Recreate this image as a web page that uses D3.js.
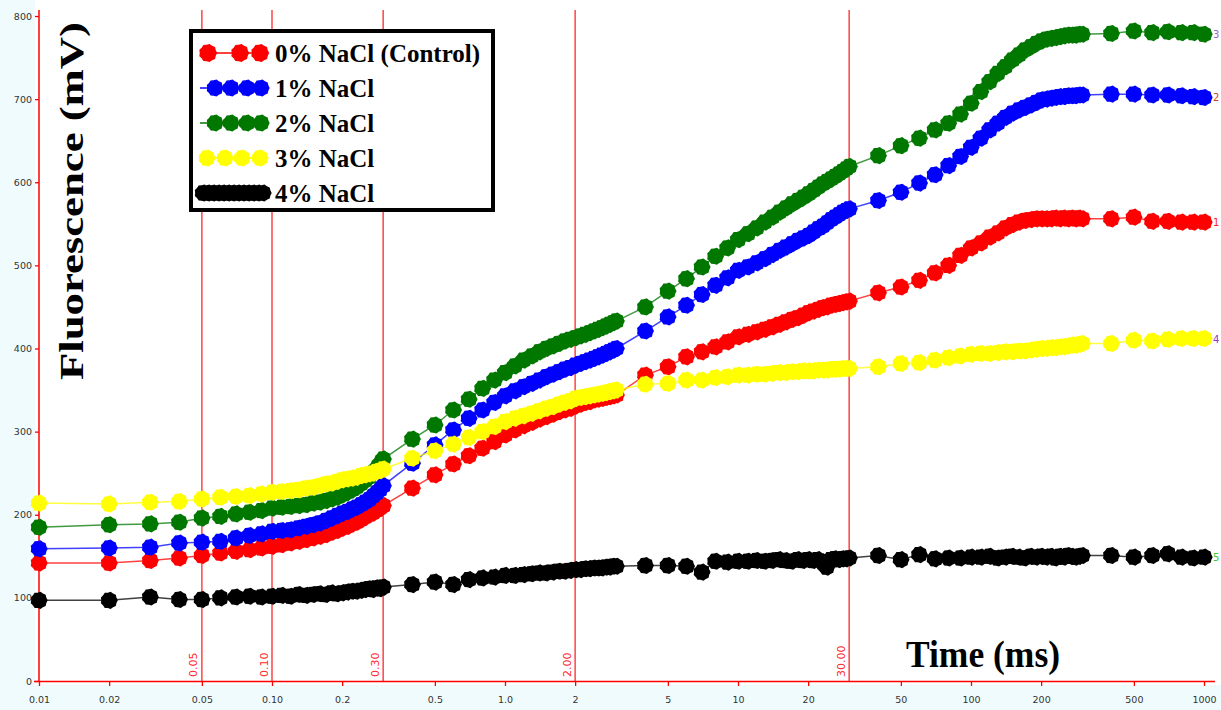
<!DOCTYPE html>
<html><head><meta charset="utf-8">
<script src="https://cdn.jsdelivr.net/npm/d3@7"></script>
<style>html,body{margin:0;padding:0;background:#fff;} svg{display:block;}</style>
</head><body>
<svg id="chart" width="1221" height="710"></svg>
<script>
// ---- data ----
const times = [
 0.01,0.02,0.03,0.04,0.05,0.06,0.07,0.08,0.09,0.10,
 0.11,0.12,0.13,0.14,0.15,0.16,0.17,0.18,0.19,0.20,
 0.21,0.22,0.23,0.24,0.25,0.26,0.27,0.28,0.29,0.30,
 0.4,0.5,0.6,0.7,0.8,0.9,1.0,
 1.1,1.2,1.3,1.4,1.5,1.6,1.7,1.8,1.9,2.0,
 2.1,2.2,2.3,2.4,2.5,2.6,2.7,2.8,2.9,3.0,
 4,5,6,7,8,9,10,
 11,12,13,14,15,16,17,18,19,20,
 21,22,23,24,25,26,27,28,29,30,
 40,50,60,70,80,90,100,
 110,120,130,140,150,160,170,180,190,200,
 210,220,230,240,250,260,270,280,290,300,
 400,500,600,700,800,900,1000];

const nacl0 = [
 142,142,145,148,151,154,156,158,160,162,
 164,166,168,170,172,174,176,179,181,184,
 186,189,191,194,197,200,202,205,208,211,
 232,248,261,271,280,288,296,
 302,307,311,315,318,321,324,326,328,331,
 333,335,336,338,339,340,341,342,343,344,
 368,378,390,396,402,408,414,
 417,420,423,426,429,432,435,437,440,443,
 445,447,449,450,452,453,454,455,456,457,
 467,474,482,491,500,512,521,
 527,534,539,545,549,552,554,555,556,556,
 556,556,557,556,557,556,557,556,557,556,
 556,558,553,553,552,552,552];

const nacl1 = [
 159,160,161,166,167,168,172,175,177,180,
 181,182,184,186,188,190,193,196,199,202,
 204,207,209,212,215,218,222,226,230,235,
 262,284,302,316,326,335,343,
 349,354,358,362,366,369,372,375,377,380,
 382,384,386,388,390,392,394,396,398,400,
 421,438,452,465,476,485,494,
 498,503,508,513,518,522,526,530,533,536,
 540,544,547,551,555,558,561,564,566,568,
 578,588,599,609,620,631,642,
 653,663,671,678,683,687,690,693,696,699,
 700,701,702,703,703,704,704,704,705,705,
 706,706,705,705,704,703,702];

const nacl2 = [
 185,188,189,191,196,198,201,203,205,208,
 209,210,211,212,214,215,217,219,221,224,
 227,230,233,237,241,245,250,255,261,267,
 291,308,326,339,352,362,371,
 379,386,391,396,400,403,406,409,411,413,
 415,417,419,421,423,425,427,429,431,433,
 450,469,484,498,511,521,531,
 538,545,552,558,564,569,574,578,582,586,
 590,594,598,601,604,607,610,613,616,619,
 632,644,653,663,671,682,695,
 709,721,731,739,747,753,759,763,767,770,
 772,773,774,775,776,777,777,777,778,778,
 779,782,780,781,780,780,778];

const nacl3 = [
 214,213,215,216,219,221,222,223,225,227,
 228,229,230,232,233,235,237,238,240,242,
 243,244,245,247,248,249,250,252,253,255,
 268,277,285,293,300,306,312,
 316,319,322,325,328,330,333,335,337,340,
 341,342,343,344,345,346,347,348,349,350,
 357,358,362,362,365,366,368,
 368,369,369,370,371,371,372,372,373,373,
 373,374,374,374,375,375,375,376,376,376,
 378,382,383,386,389,391,393,
 394,394,395,396,396,397,397,398,399,400,
 400,401,401,402,402,403,404,404,405,406,
 406,410,409,411,412,412,412];

const nacl4 = [
 97,97,101,98,98,100,101,102,101,102,
 103,102,104,103,104,105,104,106,105,106,
 107,108,108,109,110,111,110,112,111,113,
 116,119,116,122,124,125,127,
 127,128,129,130,130,131,132,132,133,134,
 134,135,135,136,136,136,137,137,138,138,
 139,139,138,131,144,143,144,
 144,145,144,145,146,145,144,146,145,146,
 145,146,143,137,146,147,146,147,147,148,
 151,146,152,147,148,148,149,
 149,150,148,149,150,149,148,150,149,150,
 149,150,148,150,149,151,150,149,150,151,
 151,149,151,153,149,148,149];

const seriesNames  = ["0% NaCl (Control)","1% NaCl","2% NaCl","3% NaCl","4% NaCl"];
const seriesValues = [nacl0, nacl1, nacl2, nacl3, nacl4];
const seriesColors = ["#ff0000","#0000ff","#007800","#ffff00","#000000"];
const curveIds     = ["1","2","3","4","5"];
const curveIdColors= ["#ff2020","#d04010","#9966cc","#9933cc","#33cc33"];

const yTicks = [0,100,200,300,400,500,600,700,800];
const xTicks = [0.01,0.02,0.05,0.1,0.2,0.5,1,2,5,10,20,50,100,200,500,1000];
const xTickLabels = ["0.01","0.02","0.05","0.10","0.2","0.5","1.0","2","5","10","20","50","100","200","500","1000"];
const markTimes  = [0.05,0.1,0.3,2,30];
const markLabels = ["0.05","0.10","0.30","2.00","30.00"];

// ---- drawing ----
const W = 1221, H = 710;
const svg = d3.select("#chart");
const x = d3.scaleLog().domain([0.01,1000]).range([39,1204]);
const y = d3.scaleLinear().domain([0,800]).range([681,16]);

svg.append("rect").attr("width",W).attr("height",H).attr("fill","#ffffff");
svg.append("rect").attr("x",0).attr("y",0).attr("width",35).attr("height",H).attr("fill","#effbfc");
svg.append("rect").attr("x",0).attr("y",685).attr("width",W).attr("height",H-685).attr("fill","#effbfc");

// vertical reference lines
const vg = svg.append("g");
vg.selectAll("line").data(markTimes).join("line")
  .attr("x1",d=>x(d)).attr("x2",d=>x(d)).attr("y1",10).attr("y2",681)
  .attr("stroke","#ff3030").attr("stroke-width",1.6).attr("stroke-opacity",0.85);
vg.selectAll("text").data(markTimes).join("text")
  .attr("transform",d=>`translate(${x(d)-4.5},677) rotate(-90)`)
  .attr("font-family","DejaVu Sans").attr("font-size",11).attr("fill","#ff2a2a")
  .text((d,i)=>markLabels[i]);

// axes
const yAxis = d3.axisLeft(y).tickValues(yTicks).tickSize(4).tickPadding(3).tickFormat(d3.format("d"));
const ya = svg.append("g").attr("transform","translate(39,0)").call(yAxis);
ya.select(".domain").remove();
ya.selectAll(".tick line").attr("stroke","#ff0000").attr("stroke-width",1.3);
ya.selectAll(".tick text").attr("font-family","DejaVu Sans").attr("font-size",9.5).attr("fill","#333");

const xAxis = d3.axisBottom(x).tickValues(xTicks).tickSize(5).tickPadding(10).tickFormat((d,i)=>xTickLabels[i]);
const xa = svg.append("g").attr("transform","translate(0,681)").call(xAxis);
xa.select(".domain").remove();
xa.selectAll(".tick line").attr("stroke","#ff0000").attr("stroke-width",1.3);
xa.selectAll(".tick text").attr("font-family","DejaVu Sans").attr("font-size",9.5).attr("fill","#333");

svg.append("line").attr("x1",39).attr("x2",39).attr("y1",10).attr("y2",682)
  .attr("stroke","#ff0000").attr("stroke-width",1.5);
svg.append("line").attr("x1",34).attr("x2",1215).attr("y1",681.5).attr("y2",681.5)
  .attr("stroke","#ff0000").attr("stroke-width",1.5);

// marker glyph (slightly jagged disc)
function blob(r){
  const n = 18, pts = [];
  for (let i=0;i<n;i++){
    const a = 2*Math.PI*i/n, rr = (i%2) ? r*0.9 : r;
    pts.push([ (rr*Math.cos(a)).toFixed(2), (rr*Math.sin(a)).toFixed(2) ]);
  }
  return "M" + pts.map(p=>p.join(",")).join("L") + "Z";
}
const markerPath = blob(8.7);

const line = d3.line().x(d=>x(d[0])).y(d=>y(d[1]));
seriesValues.forEach((vals,si)=>{
  const pts = times.map((t,i)=>[t, vals[i]]);
  const g = svg.append("g");
  g.append("path").attr("d",line(pts)).attr("fill","none")
    .attr("stroke",seriesColors[si]).attr("stroke-width",1.5).attr("stroke-opacity",0.75);
  g.selectAll("path.m").data(pts).join("path").attr("class","m")
    .attr("d",markerPath)
    .attr("transform",d=>`translate(${x(d[0])},${y(d[1])})`)
    .attr("fill",seriesColors[si]);
  // curve id at the right edge
  svg.append("text").attr("x",1213).attr("y",y(vals[vals.length-1])+4)
    .attr("font-family","DejaVu Sans").attr("font-size",10).attr("fill",curveIdColors[si])
    .text(curveIds[si]);
});

// legend
const lg = svg.append("g");
lg.append("rect").attr("x",191).attr("y",31).attr("width",302).attr("height",179)
  .attr("fill","#ffffff").attr("stroke","#000").attr("stroke-width",4);
const rowY = [53,88,123,158,193];
const legMarkers = [[208,240,260],[215,231,247,261],[215,231,247,261],[207,225,242,260],
  [203,208,213,218,223,228,233,238,243,248,253,258,263]];
seriesNames.forEach((nm,i)=>{
  lg.append("line").attr("x1",200).attr("x2",265).attr("y1",rowY[i]).attr("y2",rowY[i])
    .attr("stroke",seriesColors[i]).attr("stroke-width",1.5);
  lg.selectAll(null).data(legMarkers[i]).join("path")
    .attr("d", i===0 ? blob(9.2) : blob(8.7))
    .attr("transform",d=>`translate(${d},${rowY[i]})`)
    .attr("fill",seriesColors[i]);
  lg.append("text").attr("x",275).attr("y",rowY[i]+9)
    .attr("font-family","Liberation Serif").attr("font-weight","bold").attr("font-size",25)
    .attr("fill","#000").text(nm);
});

// axis titles
svg.append("text").attr("x",906).attr("y",667)
  .attr("font-family","Liberation Serif").attr("font-weight","bold").attr("font-size",37)
  .attr("textLength",154).attr("lengthAdjust","spacingAndGlyphs")
  .attr("fill","#000").text("Time (ms)");
svg.append("text").attr("transform","translate(83,380) rotate(-90)")
  .attr("font-family","Liberation Serif").attr("font-weight","bold").attr("font-size",33)
  .attr("textLength",358).attr("lengthAdjust","spacingAndGlyphs")
  .attr("fill","#000").text("Fluorescence (mV)");
</script>
</body></html>
